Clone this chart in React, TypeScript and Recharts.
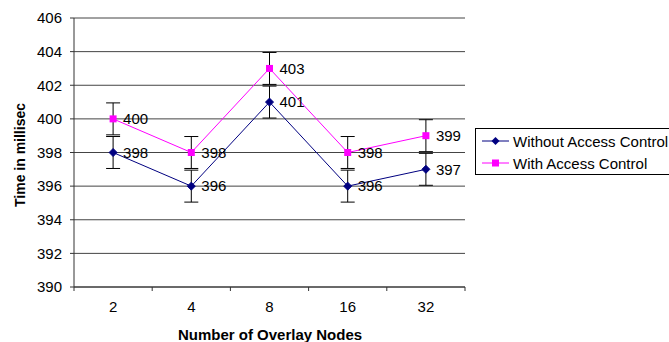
import React from "react";
import {
  LineChart,
  Line,
  XAxis,
  YAxis,
  CartesianGrid,
  ErrorBar,
  LabelList,
} from "recharts";

const nodes = ["2", "4", "8", "16", "32"];
const withoutAccess = [398, 396, 401, 396, 397];
const withAccess = [400, 398, 403, 398, 399];
const withoutErr = [0.95, 0.95, 0.95, 0.95, 0.95];
const withErr = [0.95, 0.95, 0.95, 0.95, 0.95];
const yTicks = [390, 392, 394, 396, 398, 400, 402, 404, 406];
const legendItems = ["Without Access Control", "With Access Control"];

const data = nodes.map((n, i) => ({
  nodes: n,
  without: withoutAccess[i],
  withAc: withAccess[i],
  withoutErr: withoutErr[i],
  withErr: withErr[i],
}));

const FONT = "'Liberation Sans', Arial, sans-serif";
const NAVY = "#000080";
const MAGENTA = "#ff00ff";
const BAND = 78.2;

function Diamond(props: any) {
  const { cx, cy } = props;
  if (cx == null || cy == null) return null;
  return (
    <path
      d={`M${cx},${cy - 4}L${cx + 4},${cy}L${cx},${cy + 4}L${cx - 4},${cy}Z`}
      fill={NAVY}
      stroke={NAVY}
    />
  );
}

function Square(props: any) {
  const { cx, cy } = props;
  if (cx == null || cy == null) return null;
  return <rect x={cx - 3.5} y={cy - 3.5} width={7} height={7} fill={MAGENTA} />;
}

function XTick(props: any) {
  const { x, y, payload, index } = props;
  const last = index === nodes.length - 1;
  return (
    <g>
      <line x1={x - BAND / 2} x2={x - BAND / 2} y1={y} y2={y + 4} stroke="#333" />
      {last && (
        <line x1={x + BAND / 2} x2={x + BAND / 2} y1={y} y2={y + 4} stroke="#333" />
      )}
      <text x={x} y={y + 25} textAnchor="middle" fontSize={15} fill="#000" fontFamily={FONT}>
        {payload.value}
      </text>
    </g>
  );
}

function LegendBox() {
  const colors = [NAVY, MAGENTA];
  return (
    <div
      style={{
        position: "absolute",
        left: 475,
        top: 128,
        height: 47,
        border: "1px solid #000",
        background: "#fff",
        padding: "1px 0 0 6px",
        fontFamily: FONT,
        fontSize: 15,
        width: 200,
        boxSizing: "border-box",
      }}
    >
      {legendItems.map((label, i) => (
        <div key={label} style={{ display: "flex", alignItems: "center", height: 22 }}>
          <svg width={27} height={12} style={{ marginRight: 4, flexShrink: 0 }}>
            <line x1={0} x2={27} y1={6} y2={6} stroke={colors[i]} />
            {i === 0 ? (
              <path d="M13.5,2L17.5,6L13.5,10L9.5,6Z" fill={colors[i]} />
            ) : (
              <rect x={10} y={2.5} width={7} height={7} fill={colors[i]} />
            )}
          </svg>
          <span style={{ whiteSpace: "nowrap" }}>{label}</span>
        </div>
      ))}
    </div>
  );
}

export default function App() {
  return (
    <div style={{ position: "absolute", left: 0, top: 0, width: 669, height: 342, overflow: "hidden", background: "#fff" }}>
      <LineChart
        width={669}
        height={342}
        data={data}
        margin={{ top: 18, right: 204, bottom: 0, left: 24 }}
      >
        <CartesianGrid vertical={false} stroke="#444" />
        <XAxis
          dataKey="nodes"
          scale="band"
          axisLine={{ stroke: "#333" }}
          tickLine={false}
          tickSize={0}
          tickMargin={0}
          tick={<XTick />}
          interval={0}
          height={55}
        />
        <YAxis
          domain={[390, 406]}
          ticks={yTicks}
          axisLine={{ stroke: "#333" }}
          tickLine={{ stroke: "#333" }}
          tickSize={4}
          tickMargin={8}
          tick={{ fontSize: 15, fill: "#000", fontFamily: FONT }}
          width={50}
        />
        <Line
          dataKey="without"
          stroke={NAVY}
          strokeWidth={1}
          dot={<Diamond />}
          activeDot={false}
          isAnimationActive={false}
        >
          <ErrorBar dataKey="withoutErr" width={7} stroke="#000" strokeWidth={1} direction="y" />
          <LabelList
            dataKey="without"
            position="right"
            offset={10}
            style={{ fontSize: 15, fill: "#000", fontFamily: FONT }}
          />
        </Line>
        <Line
          dataKey="withAc"
          stroke={MAGENTA}
          strokeWidth={1}
          dot={<Square />}
          activeDot={false}
          isAnimationActive={false}
        >
          <ErrorBar dataKey="withErr" width={7} stroke="#000" strokeWidth={1} direction="y" />
          <LabelList
            dataKey="withAc"
            position="right"
            offset={10}
            style={{ fontSize: 15, fill: "#000", fontFamily: FONT }}
          />
        </Line>
        <text
          x={270}
          y={340}
          textAnchor="middle"
          fontSize={15}
          fontWeight="bold"
          fontFamily={FONT}
        >
          Number of Overlay Nodes
        </text>
        <text
          x={20}
          y={155}
          textAnchor="middle"
          dominantBaseline="central"
          fontSize={14}
          fontWeight="bold"
          fontFamily={FONT}
          transform="rotate(-90 20 155)"
        >
          Time in millisec
        </text>
      </LineChart>
      <LegendBox />
    </div>
  );
}
